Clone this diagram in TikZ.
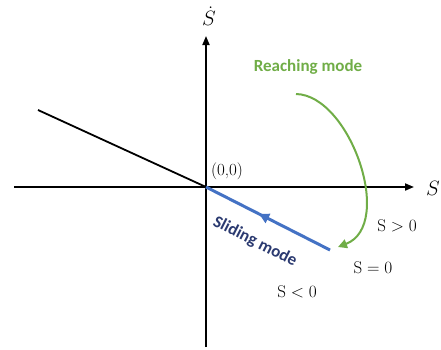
\documentclass[tikz,border=0pt]{standalone}
\usepackage{fontspec}
\newfontfamily\calib{Carlito}
\usetikzlibrary{arrows.meta,decorations.markings}
\definecolor{rgreen}{HTML}{70AD47}
\definecolor{sblue}{HTML}{4472C4}
\definecolor{snavy}{HTML}{2B3A70}
\tikzset{
  axis/.style={line width=1.8pt,-{Triangle[width=7pt,length=9pt]}},
  lbl/.style={font=\fontsize{17}{20}\selectfont,inner sep=0pt},
  modelbl/.style={inner sep=0pt,font=\calib\bfseries\fontsize{17}{20}\selectfont},
}
\begin{document}
\begin{tikzpicture}[x=1pt,y=-1pt]
\useasboundingbox (0,0) rectangle (441,349);
\coordinate (O) at (206,187);
\coordinate (xl) at (14,187);
\coordinate (xr) at (414,187);
\coordinate (yb) at (206,347);
\coordinate (yt) at (206,36);
\coordinate (L) at (38,110);
\coordinate (E) at (330,250);
\coordinate (gs) at (296,94);
\coordinate (ge) at (338,247);
\draw[axis] (xl) -- (xr);
\draw[axis] (yb) -- (yt);
\draw[line width=1.8pt] (L) -- (O);
\draw[sblue,line width=3pt,postaction={decorate},
  decoration={markings,mark=at position 0.5 with {\arrow{Triangle[width=10pt,length=10pt,reversed]}}}]
  (O) -- (E);
\draw[rgreen,line width=2pt,-{Triangle[width=9pt,length=9pt]}]
  (gs) .. controls (350,95) and (395,225) .. (ge);
\node[inner sep=0pt] (sdot) at (209,16) {\fontsize{21}{24}\selectfont$\dot{S}$};
\node[inner sep=0pt] (s) at (433,188) {\fontsize{21}{24}\selectfont$S$};
\node[lbl] (orig) at (227,171) {(0,0)};
\node[modelbl,rgreen] (reach) at (308,67) {Reaching mode};
\node[modelbl,snavy,rotate=-27] (slide) at (255,242) {Sliding mode};
\node[lbl] (sp) at (397,226) {$\mathrm{S} > 0$};
\node[lbl] (sz) at (373,268) {$\mathrm{S} = 0$};
\node[lbl] (sn) at (297,292) {$\mathrm{S} < 0$};
\end{tikzpicture}
\end{document}
